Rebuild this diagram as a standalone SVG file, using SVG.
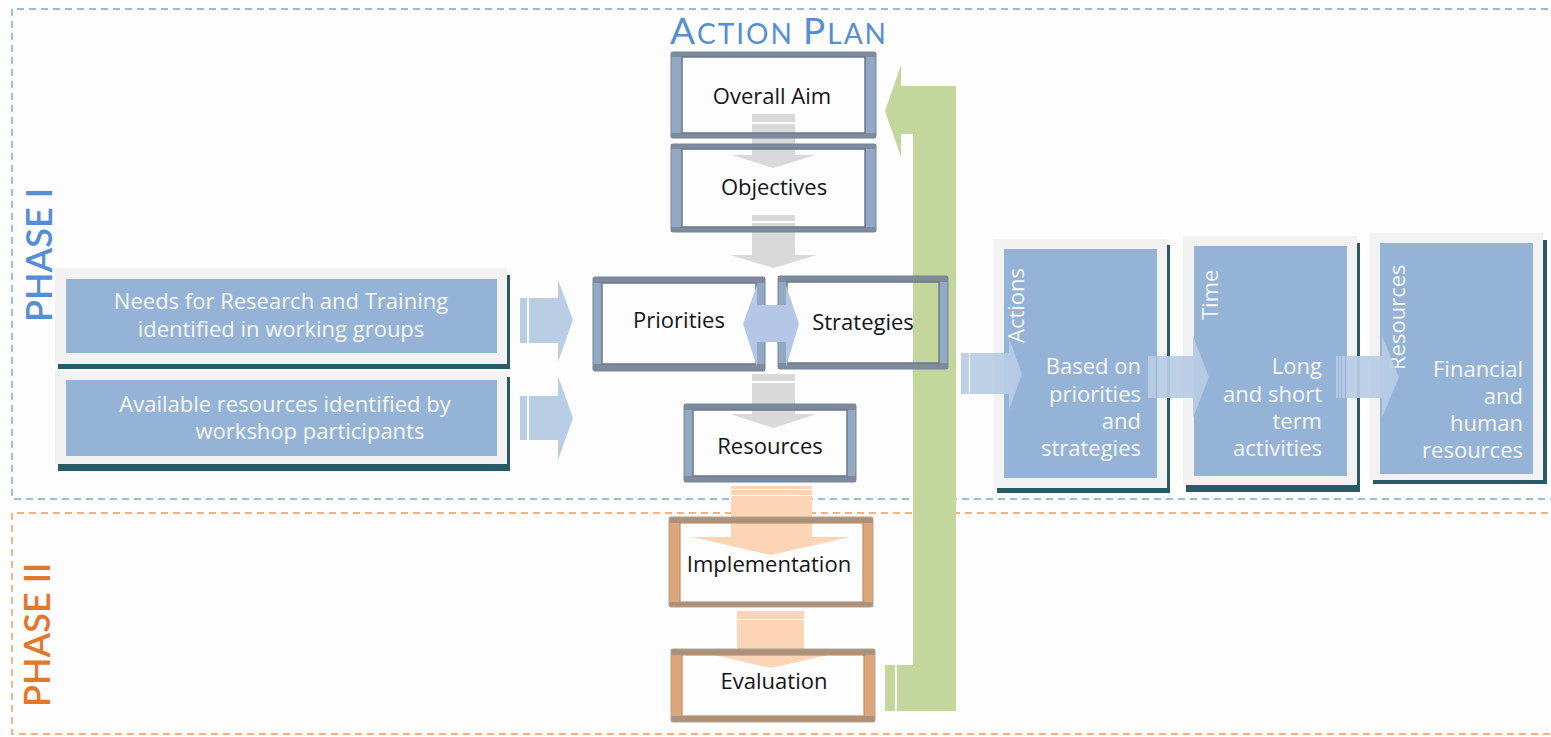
<svg xmlns="http://www.w3.org/2000/svg" width="1551" height="737" viewBox="0 0 1551 737">
<defs>
<style>
.phase{fill:none;stroke-width:1.4;stroke-dasharray:7 5}
.lab{font-family:Lato,"Open Sans","Liberation Sans",sans-serif}
.txt{font-family:"Open Sans",Lato,"Liberation Sans",sans-serif}
.ct{font-size:22px;fill:#141420;text-anchor:middle}
.wt{font-size:22px;fill:#f6f6f6}
.shadow{fill:#2a5a66}
.frame{fill:#f2f2f2}
.blue{fill:#95b3d7}
.ring{fill:#93a8c3;fill-rule:evenodd}
.band{fill:#7f8a9c}
.out{fill:none;stroke:#77849a;stroke-width:1}
.inn{fill:none;stroke:#6a778b;stroke-width:1.5}
.oring{fill:#dca67b;fill-rule:evenodd}
.oband{fill:#a8927e}
.oout{fill:none;stroke:#bba089;stroke-width:1}
.oinn{fill:none;stroke:#c48e63;stroke-width:1.2}
.ga{fill:#d9d9d9}
.oa{fill:#fbd5b5}
.ba{fill:#b9cde5}
.gr{fill:#c3d69b}
</style>
</defs>
<rect x="0" y="0" width="1551" height="737" fill="#fdfdfd"/>

<g id="phases">
<path class="phase" stroke="#79a2dc" d="M1560,9 H12 V499 H1560"/>
<path class="phase" stroke="#ef9a58" d="M1560,513 H12 V734 H1560"/>
<text class="lab" transform="translate(52,322) rotate(-90)" font-size="36" fill="#558ed5" font-weight="600">PHASE I</text>
<text class="lab" transform="translate(50,707) rotate(-90)" font-size="36" fill="#e4782a" font-weight="600">PHASE II</text>
<text class="lab" x="670" y="44" fill="#558ed5" textLength="216" lengthAdjust="spacing"><tspan font-size="37">A</tspan><tspan font-size="28">CTION </tspan><tspan font-size="37">P</tspan><tspan font-size="28">LAN</tspan></text>
</g>

<g id="needs">
<rect class="shadow" x="58" y="275" width="452" height="94"/>
<rect class="frame" x="55" y="268" width="452" height="96"/>
<rect class="blue" x="66" y="279" width="431" height="74"/>
<text class="txt wt" x="281" y="309" text-anchor="middle">Needs for Research and Training</text>
<text class="txt wt" x="281" y="337" text-anchor="middle">identified in working groups</text>
</g>
<g id="available">
<rect class="shadow" x="58" y="377" width="452" height="94"/>
<rect class="frame" x="55" y="371" width="452" height="93"/>
<rect class="blue" x="66" y="380" width="431" height="76"/>
<text class="txt wt" x="285" y="412" text-anchor="middle">Available resources identified by</text>
<text class="txt wt" x="310" y="439" text-anchor="middle">workshop participants</text>
</g>

<g id="actions">
<rect class="shadow" x="997" y="245" width="173" height="248"/>
<rect class="frame" x="994" y="239" width="173" height="249"/>
<rect class="blue" x="1004" y="249" width="153" height="229"/>
<text class="txt wt" transform="translate(1024,343) rotate(-90)">Actions</text>
<g class="txt wt" text-anchor="end">
<text x="1141" y="374">Based on</text>
<text x="1141" y="402">priorities</text>
<text x="1141" y="429">and</text>
<text x="1141" y="456">strategies</text>
</g>
</g>
<g id="time">
<rect class="shadow" x="1186" y="243" width="174" height="249"/>
<rect class="frame" x="1183" y="236" width="174" height="249"/>
<rect class="blue" x="1194" y="246" width="153" height="230"/>
<text class="txt wt" transform="translate(1218,320) rotate(-90)">Time</text>
<g class="txt wt" text-anchor="end">
<text x="1322" y="374">Long</text>
<text x="1322" y="402">and short</text>
<text x="1322" y="429">term</text>
<text x="1322" y="456">activities</text>
</g>
</g>
<g id="resources-detail">
<rect class="shadow" x="1373" y="240" width="174" height="244"/>
<rect class="frame" x="1370" y="233" width="173" height="247"/>
<rect class="blue" x="1380" y="243" width="153" height="231"/>
<text class="txt wt" transform="translate(1405,370) rotate(-90)">Resources</text>
<g class="txt wt" text-anchor="end">
<text x="1523" y="377">Financial</text>
<text x="1523" y="404">and</text>
<text x="1523" y="431">human</text>
<text x="1523" y="458">resources</text>
</g>
</g>

<g id="connectors">
<polygon class="gr" points="885,111 901,65 901,86 956,86 956,711 897,711 897,665 913,665 913,134 901,134 901,157"/>
<rect class="gr" x="885" y="665" width="10" height="46"/>
<rect class="ga" x="752" y="114" width="43" height="8"/>
<polygon class="ga" points="752,124 795,124 795,155 815,155 773.5,168 732,155 752,155"/>
<rect class="ga" x="752" y="215" width="43" height="6"/>
<polygon class="ga" points="752,223 795,223 795,255 817,255 773.5,268 730,255 752,255"/>
<rect class="ga" x="752" y="374" width="43" height="7"/>
<polygon class="ga" points="752,383 795,383 795,414 816,414 773.5,428 730,414 752,414"/>
<rect class="oa" x="731" y="486" width="81" height="3"/>
<rect class="oa" x="731" y="490" width="81" height="5"/>
<polygon class="oa" points="731,496 812,496 812,537 850,537 771,555 692,537 731,537"/>
<rect class="oa" x="737" y="611" width="67" height="8"/>
<polygon class="oa" points="737,620 804,620 804,653 837,653 771,668 705,653 737,653"/>
<rect class="ba" x="520" y="298" width="7" height="45"/>
<polygon class="ba" points="529,298 558,298 558,280 573,320 558,362 558,343 529,343"/>
<rect class="ba" x="520" y="396" width="7" height="44"/>
<polygon class="ba" points="529,396 558,396 558,376 573,418 558,460 558,440 529,440"/>
<g opacity="0.92">
<rect class="ba" x="961" y="353" width="8" height="41"/>
<polygon class="ba" points="970,353 1009,353 1009,338 1022,374 1009,410 1009,394 970,394"/>
<rect class="ba" x="1148" y="356" width="8" height="42"/>
<polygon class="ba" points="1157,356 1193,356 1193,336 1209,377 1193,418 1193,398 1157,398"/>
<rect class="ba" x="1336" y="356" width="2" height="42"/>
<rect class="ba" x="1339" y="356" width="2" height="42"/>
<rect class="ba" x="1342" y="356" width="3" height="42"/>
<polygon class="ba" points="1346,356 1382,356 1382,336 1399,377 1382,418 1382,398 1346,398"/>
</g>
</g>

<g id="overall-aim">
<path class="ring" d="M671,52 h205 v86 h-205 Z M682,57 v76 h183 v-76 Z"/>
<rect class="band" x="671" y="52" width="205" height="5"/>
<rect class="band" x="671" y="133" width="205" height="5"/>
<rect class="out" x="671" y="52" width="205" height="86" rx="2"/>
<rect class="inn" x="682" y="57" width="183" height="76"/>
<text class="txt ct" x="772" y="104">Overall Aim</text>
</g>
<g id="objectives">
<path class="ring" d="M671,144 h205 v88 h-205 Z M682,149 v78 h183 v-78 Z"/>
<rect class="band" x="671" y="144" width="205" height="5"/>
<rect class="band" x="671" y="227" width="205" height="5"/>
<rect class="out" x="671" y="144" width="205" height="88" rx="2"/>
<rect class="inn" x="682" y="149" width="183" height="78"/>
<text class="txt ct" x="774" y="195">Objectives</text>
</g>
<g id="priorities">
<path class="ring" d="M593,277 h172 v94 h-172 Z M602,283 v81 h154 v-81 Z"/>
<rect class="band" x="593" y="277" width="172" height="6"/>
<rect class="band" x="593" y="364" width="172" height="7"/>
<rect class="out" x="593" y="277" width="172" height="94" rx="2"/>
<rect class="inn" x="602" y="283" width="154" height="81"/>
<text class="txt ct" x="679" y="328">Priorities</text>
</g>
<g id="strategies">
<path class="ring" d="M778,276 h170 v93 h-170 Z M787,282 v81 h152 v-81 Z"/>
<rect class="band" x="778" y="276" width="170" height="6"/>
<rect class="band" x="778" y="363" width="170" height="6"/>
<rect class="out" x="778" y="276" width="170" height="93" rx="2"/>
<rect class="inn" x="787" y="282" width="152" height="81"/>
<text class="txt ct" x="863" y="330">Strategies</text>
</g>
<g id="resources">
<path class="ring" d="M684,404 h172 v78 h-172 Z M693,410 v66 h154 v-66 Z"/>
<rect class="band" x="684" y="404" width="172" height="6"/>
<rect class="band" x="684" y="476" width="172" height="6"/>
<rect class="out" x="684" y="404" width="172" height="78" rx="2"/>
<rect class="inn" x="693" y="410" width="154" height="66"/>
<text class="txt ct" x="770" y="454">Resources</text>
</g>
<g id="implementation">
<path class="oring" d="M669,517 h204 v90 h-204 Z M680,523 v79 h183 v-79 Z"/>
<rect class="oband" x="669" y="517" width="204" height="6"/>
<rect class="oband" x="669" y="602" width="204" height="5"/>
<rect class="oout" x="669" y="517" width="204" height="90" rx="2"/>
<rect class="oinn" x="680" y="523" width="183" height="79"/>
<text class="txt ct" x="769" y="572">Implementation</text>
</g>
<g id="evaluation">
<path class="oring" d="M671,649 h204 v73 h-204 Z M682,655 v61 h182 v-61 Z"/>
<rect class="oband" x="671" y="649" width="204" height="6"/>
<rect class="oband" x="671" y="716" width="204" height="6"/>
<rect class="oout" x="671" y="649" width="204" height="73" rx="2"/>
<rect class="oinn" x="682" y="655" width="182" height="61"/>
<text class="txt ct" x="774" y="689">Evaluation</text>
</g>

<g id="connector-priorities-strategies">
<polygon fill="#b4c7e7" points="743,324 757,285 757,305 786,305 786,285 799,324 786,367 786,342 757,342 757,367"/>
</g>
</svg>
